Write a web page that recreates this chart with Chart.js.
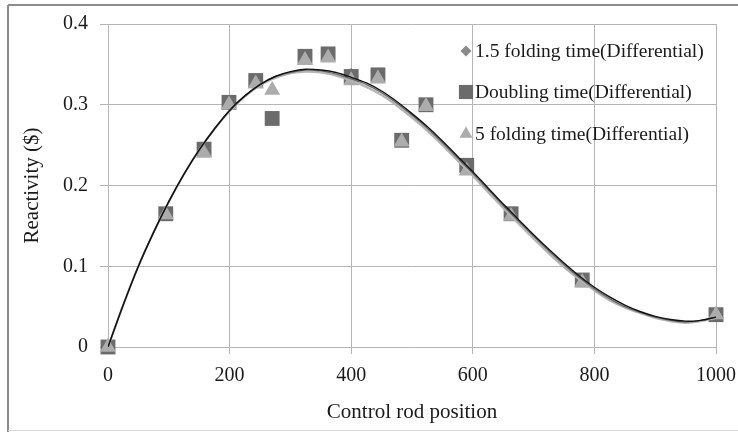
<!DOCTYPE html>
<html>
<head>
<meta charset="utf-8">
<script src="https://cdn.jsdelivr.net/npm/chart.js@4.4.0/dist/chart.umd.min.js"></script>
<style>
  html, body { margin: 0; padding: 0; background: #fff; }
  #wrap { width: 738px; height: 432px; }
</style>
</head>
<body>
<div id="wrap"><canvas id="reactivity" width="738" height="432"></canvas></div>
<script>
// measured points
const rodPos = [0, 95, 158, 199, 243, 270, 324, 362, 400, 444, 483, 523, 590, 663, 780, 1000]
const fold15 = [0, 0.165, 0.245, 0.302, 0.330, 0.283, 0.360, 0.363, 0.337, 0.337, 0.256, 0.300, 0.225, 0.165, 0.083, 0.040]
const doubling = [0, 0.165, 0.245, 0.303, 0.330, 0.283, 0.360, 0.363, 0.335, 0.337, 0.256, 0.300, 0.225, 0.165, 0.083, 0.040]
const fold5 = [0, 0.164, 0.240, 0.300, 0.326, 0.318, 0.355, 0.358, 0.330, 0.332, 0.254, 0.298, 0.218, 0.162, 0.080, 0.040]

// trend lines
const fitX = [0, 25, 50, 75, 100, 125, 150, 175, 200, 225, 250, 275, 300, 325, 350, 375, 400, 425, 450, 475,
  500, 525, 550, 575, 600, 625, 650, 675, 700, 725, 750, 775, 800, 825, 850, 875, 900, 925, 950, 975, 1000]
const fitA = [0, 0.052, 0.100, 0.142, 0.180, 0.214, 0.244, 0.270, 0.293, 0.311, 0.325, 0.335, 0.341, 0.344, 0.343, 0.340, 0.334, 0.327, 0.317, 0.304,
  0.289, 0.273, 0.255, 0.236, 0.217, 0.197, 0.177, 0.158, 0.139, 0.121, 0.104, 0.088, 0.074, 0.062, 0.052, 0.044, 0.038, 0.034, 0.032, 0.033, 0.037]
const fitB = [0, 0.052, 0.100, 0.142, 0.180, 0.214, 0.244, 0.270, 0.293, 0.311, 0.325, 0.335, 0.340, 0.343, 0.342, 0.338, 0.332, 0.325, 0.315, 0.302,
  0.287, 0.271, 0.253, 0.234, 0.215, 0.195, 0.175, 0.156, 0.137, 0.119, 0.102, 0.086, 0.072, 0.060, 0.050, 0.043, 0.037, 0.033, 0.031, 0.033, 0.037]
const fitC = [0, 0.052, 0.100, 0.142, 0.180, 0.214, 0.244, 0.270, 0.292, 0.310, 0.324, 0.333, 0.339, 0.341, 0.340, 0.336, 0.330, 0.322, 0.312, 0.299,
  0.284, 0.268, 0.250, 0.231, 0.212, 0.192, 0.172, 0.153, 0.134, 0.116, 0.099, 0.084, 0.070, 0.058, 0.049, 0.042, 0.036, 0.032, 0.030, 0.032, 0.036]

const xTicks = [0, 200, 400, 600, 800, 1000]

const pts = (xs, ys) => xs.map((x, i) => ({ x: x, y: ys[i] }))

const serif = 'Liberation Serif'
const gridGrey = '#b5b5b5'

const fitLine = (label, ys, color, width) => ({
  label: label,
  data: pts(fitX, ys),
  showLine: true,
  borderColor: color,
  borderWidth: width,
  pointRadius: 0,
  tension: 0.3,
  order: 0,
  inLegend: false,
})

// frame round the whole picture
const framePlugin = {
  id: 'frame',
  beforeDraw(chart) {
    const ctx = chart.ctx
    ctx.save()
    ctx.fillStyle = '#fff'
    ctx.fillRect(0, 0, chart.width, chart.height)
    ctx.strokeStyle = '#8c8c8c'
    ctx.lineWidth = 2
    ctx.beginPath()
    ctx.moveTo(8, 5); ctx.lineTo(738, 5)
    ctx.moveTo(8, 5); ctx.lineTo(8, 432)
    ctx.stroke()
    ctx.strokeStyle = '#d8d8d8'
    ctx.lineWidth = 1
    ctx.beginPath()
    ctx.moveTo(8, 430.5); ctx.lineTo(738, 430.5)
    ctx.stroke()
    ctx.restore()
  }
}

// legend sits inside the plot, upper right
const legendPlugin = {
  id: 'innerLegend',
  afterDatasetsDraw(chart) {
    const ctx = chart.ctx
    const area = chart.chartArea
    const items = chart.data.datasets.filter(d => d.inLegend).reverse()
    const rows = [27, 68, 110]
    ctx.save()
    ctx.font = '19.5px ' + serif
    ctx.textBaseline = 'middle'
    items.forEach((d, i) => {
      const y = area.top + rows[i]
      ctx.fillStyle = d.pointBackgroundColor
      Chart.helpers.drawPoint(ctx, {
        pointStyle: d.pointStyle,
        radius: d.legendRadius,
        rotation: 0,
        borderWidth: 0,
      }, area.right - 250, y)
      ctx.fillStyle = '#1a1a1a'
      ctx.fillText(d.label, area.right - 241, y + 1)
    })
    ctx.restore()
  }
}

const config = {
  type: 'scatter',
  data: {
    datasets: [
      fitLine('fit 5', fitA, '#111111', 1.4),
      fitLine('fit doubling', fitB, '#6a6a6a', 1.4),
      fitLine('fit 1.5', fitC, '#b4b4b4', 2.2),
      {
        label: '5 folding time(Differential)',
        data: pts(rodPos, fold5),
        pointStyle: 'triangle',
        pointRadius: 9.3,
        legendRadius: 7.5,
        pointBackgroundColor: '#acacac',
        pointBorderWidth: 0,
        clip: false,
        order: 1,
        inLegend: true,
      },
      {
        label: 'Doubling time(Differential)',
        data: pts(rodPos, doubling),
        pointStyle: 'rect',
        pointRadius: 10.5,
        legendRadius: 10,
        pointBackgroundColor: '#6b6b6b',
        pointBorderWidth: 0,
        clip: false,
        order: 2,
        inLegend: true,
      },
      {
        label: '1.5 folding time(Differential)',
        data: pts(rodPos, fold15),
        pointStyle: 'rectRot',
        pointRadius: 7,
        legendRadius: 5.5,
        pointBackgroundColor: '#8a8a8a',
        pointBorderWidth: 0,
        clip: false,
        order: 3,
        inLegend: true,
      },
    ],
  },
  options: {
    responsive: false,
    animation: false,
    devicePixelRatio: 1,
    layout: { padding: { left: 10, top: 20, right: 22, bottom: 0 } },
    plugins: {
      legend: { display: false },
      tooltip: { enabled: false },
    },
    scales: {
      x: {
        type: 'linear',
        min: 0,
        max: 1000,
        afterBuildTicks: (scale) => { scale.ticks = xTicks.map(v => ({ value: v })) },
        afterFit: (scale) => {
          scale.height = 85
          scale.paddingLeft = 0
          scale.paddingRight = 0
        },
        grid: { color: gridGrey, lineWidth: 1, tickLength: 7 },
        border: { color: gridGrey },
        ticks: {
          font: { family: serif, size: 20 },
          color: '#1a1a1a',
          padding: 10,
          maxRotation: 0,
          callback: (v) => String(v),
        },
        title: {
          display: true,
          text: 'Control rod position',
          font: { family: serif, size: 21 },
          color: '#1a1a1a',
          padding: { top: 0, bottom: 7 },
        },
      },
      y: {
        min: 0,
        max: 0.4,
        afterFit: (scale) => { scale.width = 98 },
        grid: { color: gridGrey, lineWidth: 1, tickLength: 8 },
        border: { color: gridGrey },
        ticks: { stepSize: 0.1, font: { family: serif, size: 20 }, color: '#1a1a1a', padding: 12 },
        title: {
          display: true,
          text: 'Reactivity ($)',
          font: { family: serif, size: 21 },
          color: '#1a1a1a',
          padding: { top: 10, bottom: 0 },
        },
      },
    },
  },
  plugins: [framePlugin, legendPlugin],
}

const ctx = document.getElementById('reactivity')
window.reactivityChart = new Chart(ctx, config)
</script>
</body>
</html>
